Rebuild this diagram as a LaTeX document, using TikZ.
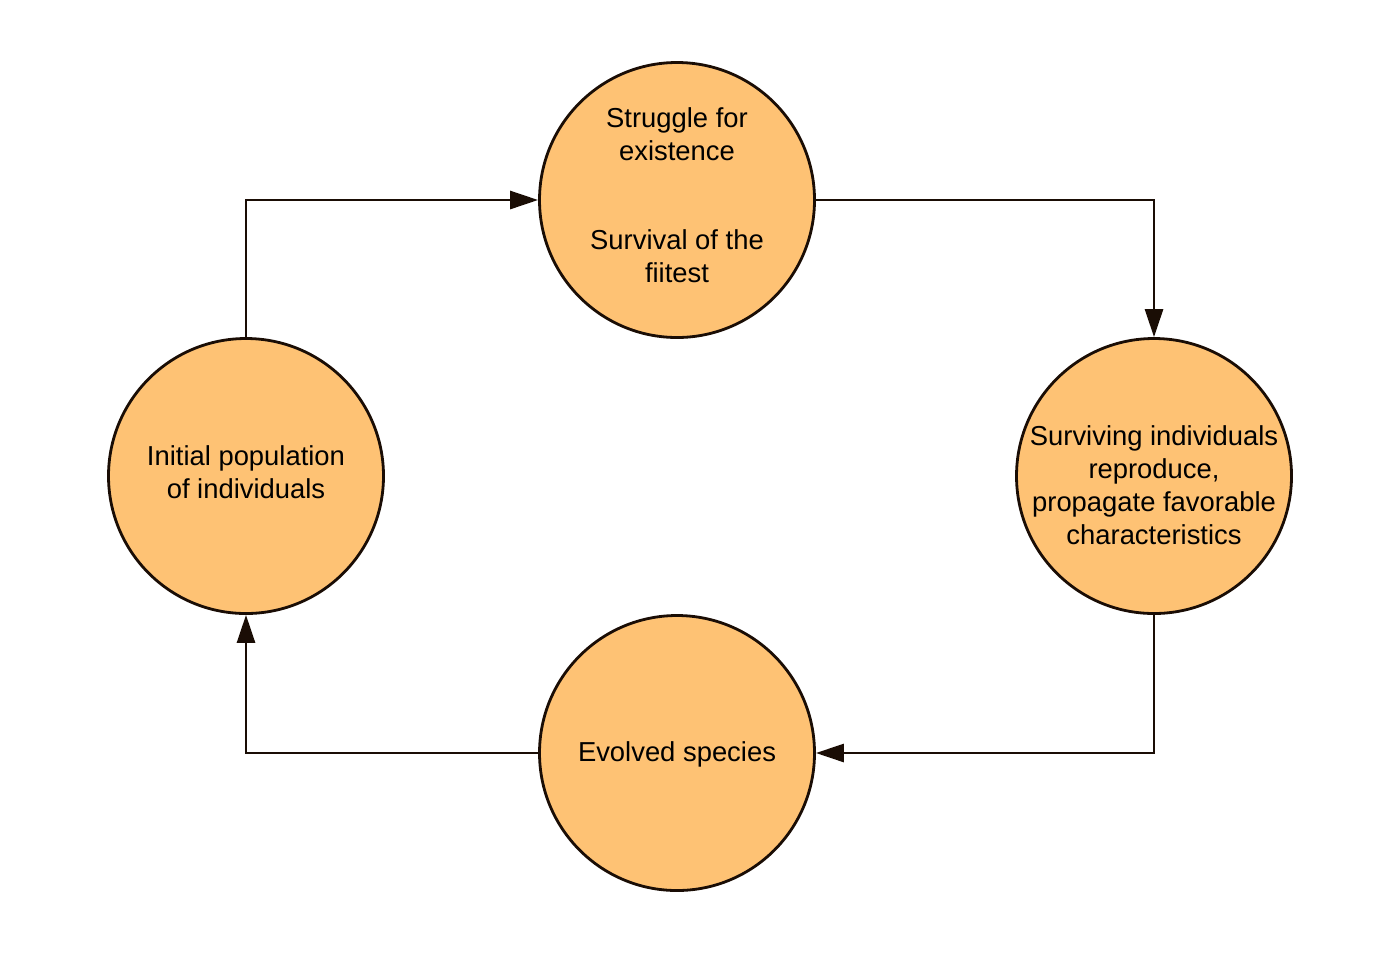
\documentclass[tikz,border=0pt]{standalone}
\usepackage{fontspec}
\setmainfont{Liberation Sans}
\usetikzlibrary{arrows.meta}
\definecolor{stagefill}{HTML}{FEC274}
\definecolor{stageline}{HTML}{1A0D05}
\tikzset{
  stage/.style={circle, draw=stageline, line width=1.4pt, fill=stagefill,
    minimum size=137.5pt, inner sep=0pt},
  stagetext/.style={align=center, text=black, inner sep=0pt,
    font=\fontsize{13.7pt}{16.5pt}\selectfont},
  flow/.style={draw=stageline, line width=1.4pt,
    -{Triangle[length=14pt,width=9pt]}}
}
\begin{document}
\begin{tikzpicture}[x=0.5pt, y=-0.5pt]
    % Fix the canvas
    \useasboundingbox (0,0) rectangle (1400,954);

    % Draw the four stages
    \node[stage, label={[stagetext, yshift=2.5pt]center:Struggle for\\existence\\[28pt]Survival of the\\fiitest}] (struggle) at (677,200) {};
    \node[stage, label={[stagetext, yshift=-4.5pt]center:Surviving individuals\\reproduce,\\propagate favorable\\characteristics}] (surviving) at (1154,476) {};
    \node[stage, label={[stagetext, yshift=-0.5pt]center:Evolved species}] (evolved) at (677,753) {};
    \node[stage, label={[stagetext, yshift=2pt]center:Initial population\\of individuals}] (initial) at (246,476) {};

    % Connect the stages
    \draw[flow] (initial.north) |- (struggle.west);
    \draw[flow] (struggle.east) -| (surviving.north);
    \draw[flow] (surviving.south) |- (evolved.east);
    \draw[flow] (evolved.west) -| (initial.south);
\end{tikzpicture}
\end{document}
